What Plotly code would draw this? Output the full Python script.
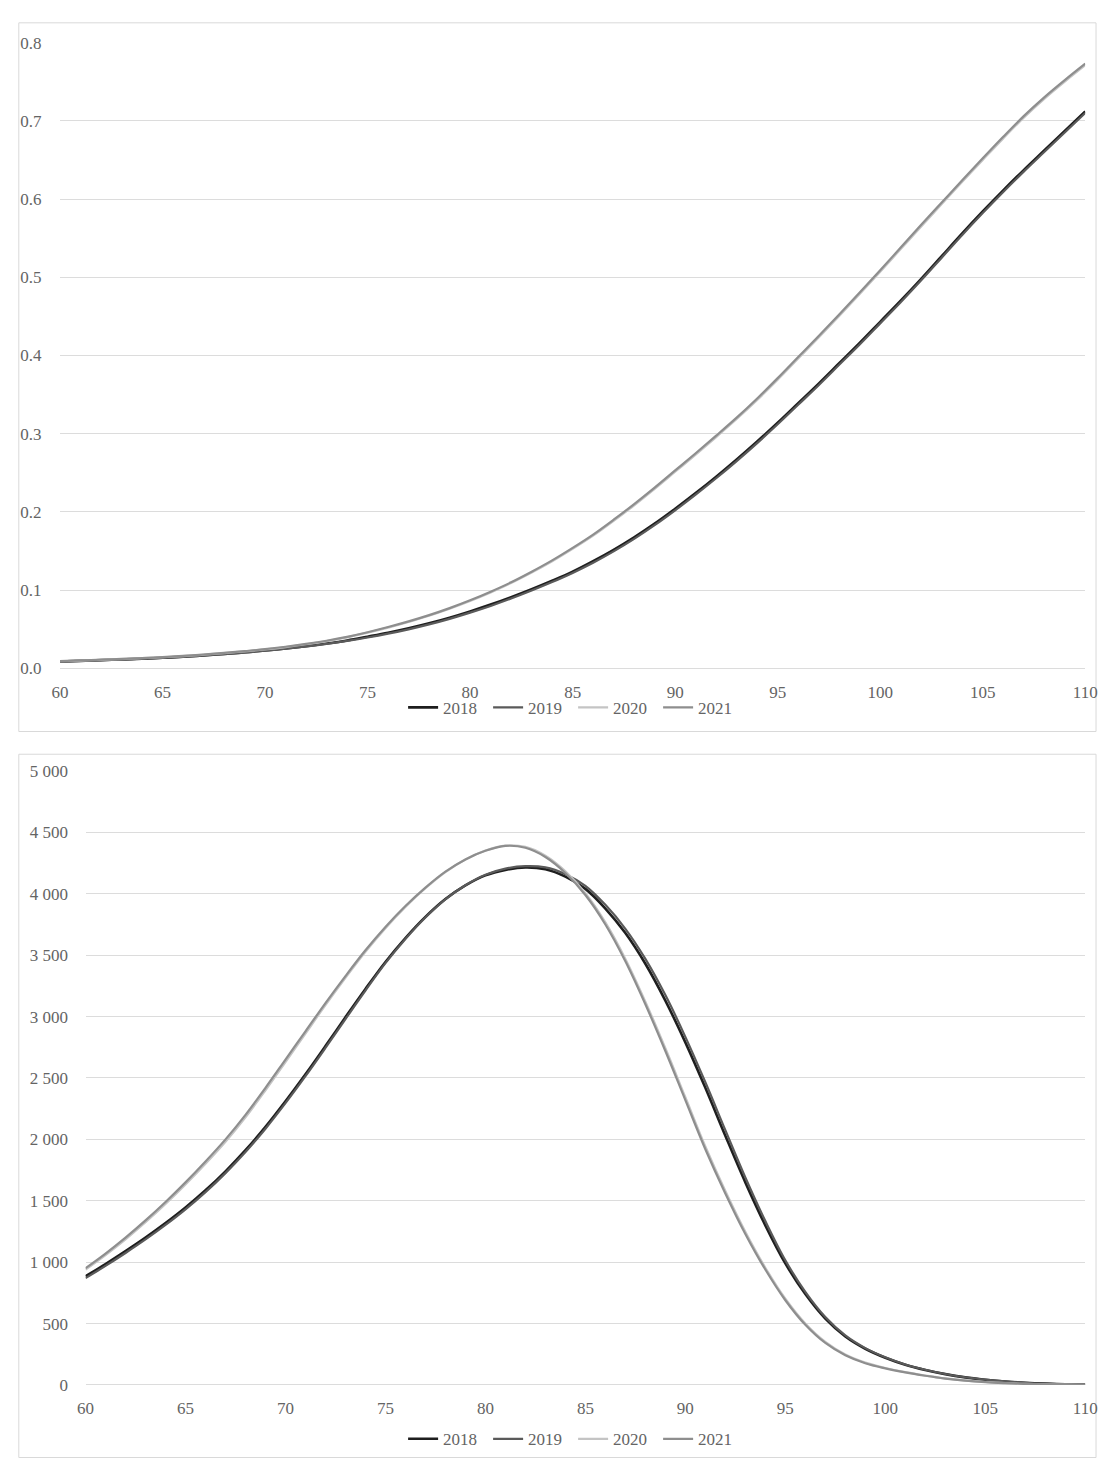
import plotly.graph_objects as go

ages = list(range(60, 111))

q_2018 = [.0088, .0096, .0105, .0114, .0124, .0135, .0149, .0165, .0184, .0205,
          .0228, .0254, .0284, .0318, .0357, .0405, .0455, .0512, .0576, .0648,
          .0728, .0815, .0910, .1012, .1120, .1236, .137, .1515, .1675, .185,
          .204, .224, .245, .267, .290, .314, .339, .364, .390, .416,
          .443, .470, .498, .527, .556, .584, .611, .637, .662, .687, .712]
q_2019 = [.0087, .0095, .0104, .0113, .0123, .0134, .0147, .0163, .0181, .0202,
          .0225, .0251, .0280, .0313, .0351, .0394, .0443, .0499, .0562, .0633,
          .0712, .0798, .0893, .0995, .1103, .1220, .135, .1495, .1655, .183,
          .202, .222, .243, .265, .288, .312, .337, .362, .388, .414,
          .441, .468, .496, .525, .554, .582, .609, .635, .660, .685, .710]
q_2020 = [.0091, .0100, .0109, .0119, .0130, .0142, .0157, .0175, .0195, .0217,
          .0242, .0272, .0308, .0349, .0397, .0456, .0521, .0593, .0672, .0762,
          .0861, .0970, .1090, .1224, .1368, .1527, .1696, .1885, .2084, .2294,
          .2513, .2733, .2957, .3187, .3431, .3690, .3960, .4230, .4505, .4785,
          .5070, .5360, .5650, .5935, .6220, .6500, .6775, .7040, .7280, .7500, .7710]
q_2021 = [.0092, .0101, .0110, .0120, .0131, .0144, .0159, .0177, .0197, .0220,
          .0245, .0276, .0312, .0353, .0402, .0462, .0528, .0600, .0680, .0770,
          .0870, .0980, .1100, .1235, .1380, .1540, .1710, .1900, .2100, .2310,
          .2530, .2750, .2975, .3205, .3450, .3710, .3980, .4250, .4525, .4805,
          .5090, .5380, .5670, .5955, .6240, .6520, .6795, .7060, .7300, .7520, .7730]

d_2018 = [885, 985, 1090, 1200, 1318, 1445, 1585, 1740, 1912, 2102,
          2310, 2530, 2760, 2995, 3225, 3445, 3640, 3812, 3957, 4068,
          4150, 4195, 4215, 4200, 4140, 4040, 3880, 3680, 3430, 3130,
          2790, 2420, 2030, 1650, 1300, 990, 740, 540, 395, 295,
          222, 165, 122, 88, 62, 43, 28, 18, 11, 6, 3]
d_2019 = [870, 970, 1075, 1185, 1303, 1430, 1570, 1725, 1897, 2087,
          2295, 2515, 2745, 2980, 3212, 3435, 3632, 3807, 3955, 4070,
          4155, 4205, 4225, 4215, 4160, 4065, 3910, 3715, 3470, 3175,
          2835, 2465, 2075, 1690, 1335, 1015, 758, 553, 403, 300,
          225, 167, 124, 89, 63, 44, 29, 18, 11, 6, 3]
d_2020 = [940, 1058, 1186, 1325, 1474, 1633, 1802, 1981, 2180, 2400,
          2630, 2862, 3093, 3315, 3527, 3720, 3893, 4045, 4177, 4280,
          4352, 4393, 4382, 4310, 4183, 4005, 3767, 3470, 3122, 2742,
          2343, 1942, 1580, 1248, 955, 702, 500, 350, 248, 182,
          138, 104, 77, 53, 36, 24, 15, 9, 5, 3, 1.5]
d_2021 = [951, 1070, 1200, 1340, 1490, 1650, 1820, 2000, 2200, 2420,
          2650, 2880, 3110, 3330, 3540, 3730, 3900, 4050, 4180, 4280,
          4350, 4390, 4375, 4300, 4170, 3990, 3750, 3450, 3100, 2720,
          2320, 1920, 1560, 1230, 940, 690, 490, 342, 242, 177,
          135, 102, 75, 52, 35, 23, 15, 9, 5, 3, 1.5]

years = ["2018", "2019", "2020", "2021"]
colors = ["#1e1e1e", "#5a5a5a", "#c4c4c4", "#8e8e8e"]
widths = [2.6, 2.2, 2.2, 2.2]
q_series = [q_2018, q_2019, q_2020, q_2021]
d_series = [d_2018, d_2019, d_2020, d_2021]
x_ticks = list(range(60, 111, 5))

W, H = 1110, 1468
FONT = dict(family="Liberation Serif, Times New Roman, serif", size=17, color="#646464")
GRID = "#dcdcdc"

fig = go.Figure()
for yr, col, w, q in zip(years, colors, widths, q_series):
    fig.add_trace(go.Scatter(x=ages, y=q, mode="lines", name=yr,
                             line=dict(color=col, width=w, shape="spline", smoothing=1.0),
                             xaxis="x", yaxis="y", legend="legend"))
for yr, col, w, d in zip(years, colors, widths, d_series):
    fig.add_trace(go.Scatter(x=ages, y=d, mode="lines", name=yr,
                             line=dict(color=col, width=w, shape="spline", smoothing=1.0),
                             xaxis="x2", yaxis="y2", legend="legend2"))

def py(pix):
    return 1 - pix / H

def px(pix):
    return pix / W

ax_common = dict(showgrid=False, zeroline=False, showline=False, tickfont=FONT,
                 ticks="outside", tickcolor="rgba(0,0,0,0)", ticklen=8,
                 range=[60, 110], tickvals=x_ticks)
legend_common = dict(orientation="h", x=0.518, xanchor="center", yanchor="middle",
                     font=FONT, itemwidth=30, entrywidth=40, entrywidthmode="pixels",
                     bgcolor="rgba(0,0,0,0)", traceorder="normal")
fig.update_layout(
    width=W, height=H, margin=dict(l=0, r=0, t=0, b=0),
    paper_bgcolor="white", plot_bgcolor="white",
    separators=". ",
    font=FONT,
    xaxis=dict(domain=[px(52), px(1097)], anchor="y", **ax_common),
    yaxis=dict(domain=[py(668), py(34)], anchor="x", range=[0, 0.8], dtick=0.1,
               tickformat=".1f", showgrid=True, gridcolor=GRID, gridwidth=1,
               zeroline=True, zerolinecolor=GRID, zerolinewidth=1, showline=False,
               ticks="outside", tickcolor="rgba(0,0,0,0)", ticklen=14, tickfont=FONT),
    xaxis2=dict(domain=[px(78), px(1097)], anchor="y2", **ax_common),
    yaxis2=dict(domain=[py(1394), py(772)], anchor="x2", range=[0, 5000], dtick=500,
                tickformat=",d", showgrid=True, gridcolor=GRID, gridwidth=1,
                zeroline=True, zerolinecolor=GRID, zerolinewidth=1, showline=False,
                ticks="outside", tickcolor="rgba(0,0,0,0)", ticklen=13, tickfont=FONT),
    legend=dict(y=py(708), **legend_common),
    legend2=dict(y=py(1449), **legend_common),
    showlegend=True,
    shapes=[
        dict(type="rect", xref="paper", yref="paper", x0=px(10), x1=px(1108),
             y0=py(732), y1=py(14), line=dict(color="#d9d9d9", width=1), layer="below"),
        dict(type="rect", xref="paper", yref="paper", x0=px(10), x1=px(1108),
             y0=py(1467.5), y1=py(755), line=dict(color="#d9d9d9", width=1), layer="below"),
    ],
)

fig.write_html("out.html", config={"displayModeBar": False},
               post_script="document.body.style.margin='0';document.body.style.overflow='hidden';")
